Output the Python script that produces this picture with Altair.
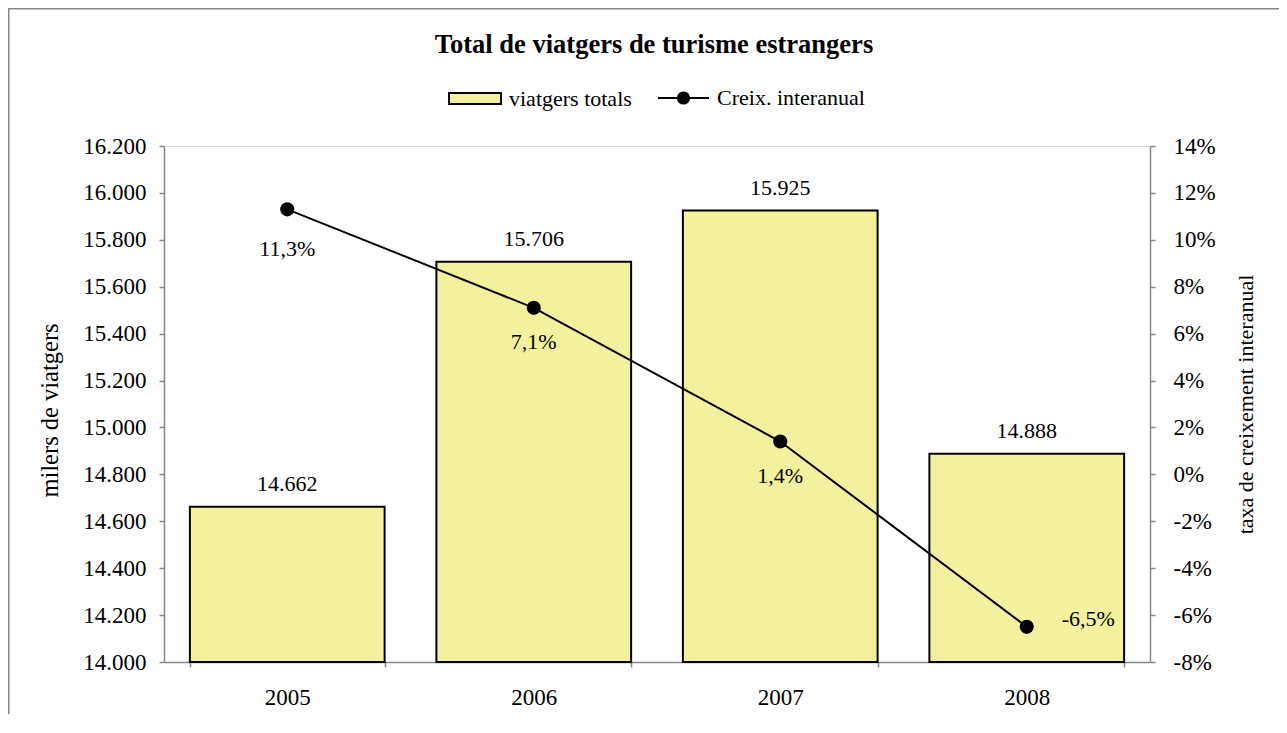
import altair as alt
import pandas as pd

# ---- data ----
years = ["2005", "2006", "2007", "2008"]
travellers = [14662, 15706, 15925, 14888]          # milers de viatgers
growth = [0.113, 0.071, 0.014, -0.065]             # taxa de creixement interanual
bar_series = ["viatgers totals"] * 4
line_series = ["Creix. interanual"] * 4
left_ticks = [14000, 14200, 14400, 14600, 14800, 15000, 15200, 15400,
              15600, 15800, 16000, 16200]
right_ticks = [-0.08, -0.06, -0.04, -0.02, 0.0, 0.02, 0.04, 0.06,
               0.08, 0.10, 0.12, 0.14]

df = pd.DataFrame({
    "any": years,
    "viatgers": travellers,
    "creix": growth,
    "serie_barra": bar_series,
    "serie_linia": line_series,
})

FONT = "Liberation Serif"
GREY = "#868686"
FS = 22
FS_AX = 23

x_enc = alt.X(
    "any:N",
    scale=alt.Scale(paddingInner=0.21, paddingOuter=0.105),
    axis=alt.Axis(title=None, labelAngle=0, tickBand="extent", tickSize=5,
                  domainColor=GREY, tickColor=GREY, domainWidth=1.5,
                  tickWidth=1.5, labelPadding=19, labelFont=FONT,
                  labelFontSize=FS_AX, labelColor="black"),
)

y_left = alt.Y(
    "viatgers:Q",
    scale=alt.Scale(domain=[14000, 16200], zero=False, nice=False),
    axis=alt.Axis(title="milers de viatgers", values=left_ticks, format=",.0f",
                  orient="left", grid=False, domainColor=GREY, tickColor=GREY,
                  domainWidth=1.5, tickWidth=1.5, tickSize=5, labelPadding=13,
                  labelFont=FONT, labelFontSize=FS_AX, labelColor="black",
                  titleFont=FONT, titleFontSize=24.5, titleFontWeight="normal",
                  titleColor="black", titlePadding=20, titleY=264),
)

y_right = alt.Y(
    "creix:Q",
    scale=alt.Scale(domain=[-0.08, 0.14], zero=False, nice=False),
    axis=alt.Axis(title="taxa de creixement interanual", values=right_ticks,
                  format=".0%", orient="right", grid=False, domainColor=GREY,
                  tickColor=GREY, domainWidth=1.5, tickWidth=1.5, tickSize=5,
                  labelPadding=18, labelFont=FONT, labelFontSize=FS_AX,
                  labelColor="black", titleFont=FONT, titleFontSize=FS,
                  titleFontWeight="normal", titleColor="black",
                  titleAngle=270, titleBaseline="top", titlePadding=20),
)

bars = alt.Chart(df).mark_bar(stroke="black", strokeWidth=2).encode(
    x=x_enc,
    y=y_left,
    y2=alt.datum(14000),
    fill=alt.Fill(
        "serie_barra:N",
        scale=alt.Scale(domain=["viatgers totals"], range=["#F3F19D"]),
        legend=alt.Legend(title=None, orient="none", legendX=284, legendY=-74.5,
                          symbolType="M-1,-0.21H1V0.21H-1Z", symbolSize=2704,
                          symbolStrokeColor="black", symbolStrokeWidth=2,
                          labelFont=FONT, labelFontSize=FS, labelColor="black",
                          labelOffset=7),
    ),
)

bar_labels = alt.Chart(df).mark_text(
    dy=-16, baseline="alphabetic", font=FONT, fontSize=FS, color="black"
).encode(x=x_enc, y=y_left, text=alt.Text("viatgers:Q", format=",.0f"))

left = alt.layer(bars, bar_labels)

line = alt.Chart(df).mark_line(strokeWidth=2).encode(
    x=x_enc,
    y=y_right,
    stroke=alt.Stroke(
        "serie_linia:N",
        scale=alt.Scale(domain=["Creix. interanual"], range=["black"]),
        legend=alt.Legend(title=None, orient="none", legendX=493, legendY=-74.5,
                          symbolType="M-1,0H1M-0.22,0A0.22,0.22,0,1,1,0.22,0A0.22,0.22,0,1,1,-0.22,0Z",
                          symbolSize=2601, symbolFillColor="black",
                          symbolStrokeWidth=2, labelFont=FONT,
                          labelFontSize=FS, labelColor="black", labelOffset=7),
    ),
)

points = alt.Chart(df).mark_circle(size=200, color="black", opacity=1).encode(
    x=x_enc, y=y_right
)

lab_first = alt.Chart(df).transform_filter(alt.datum.any == "2005").mark_text(
    dy=47, baseline="alphabetic", font=FONT, fontSize=FS, color="black"
).encode(x=x_enc, y=y_right, text=alt.Text("creix:Q", format=".1%"))

lab_mid = alt.Chart(df).transform_filter(
    (alt.datum.any == "2006") | (alt.datum.any == "2007")
).mark_text(
    dy=41, baseline="alphabetic", font=FONT, fontSize=FS, color="black"
).encode(x=x_enc, y=y_right, text=alt.Text("creix:Q", format=".1%"))

lab_last = alt.Chart(df).transform_filter(alt.datum.any == "2008").mark_text(
    dx=35, dy=-1, align="left", baseline="alphabetic", font=FONT, fontSize=FS,
    color="black"
).encode(x=x_enc, y=y_right, text=alt.Text("creix:Q", format=".1%"))

right = alt.layer(line, points, lab_first, lab_mid, lab_last)

frame_df = pd.DataFrame({"k": [0]})
border_left = alt.Chart(frame_df).mark_rule(color=GREY, strokeWidth=2).encode(
    x=alt.value(-155.5), y=alt.value(-138), y2=alt.value(568)
)
border_top = alt.Chart(frame_df).mark_rule(color=GREY, strokeWidth=2).encode(
    x=alt.value(-156), x2=alt.value(1115), y=alt.value(-137.5)
)

chart = alt.layer(left, right, border_left, border_top).resolve_scale(
    y="independent"
).properties(
    width=986,
    height=516,
    title=alt.TitleParams("Total de viatgers de turisme estrangers", font=FONT,
                          fontSize=26.5, fontWeight="bold", anchor="middle",
                          frame="group", offset=15, dx=-3, dy=66,
                          color="black"),
    autosize=alt.AutoSizeParams(type="none"),
    padding={"left": 156, "top": 138, "right": 129, "bottom": 52},
    background="white",
).configure_view(stroke=None).configure(
    locale=alt.Locale(number=alt.NumberLocale(decimal=",", thousands=".",
                                              grouping=[3], minus="-",
                                              currency=["", "\u00a0€"]))
)

chart.save("out.html", embed_options={"renderer": "svg", "actions": False})
